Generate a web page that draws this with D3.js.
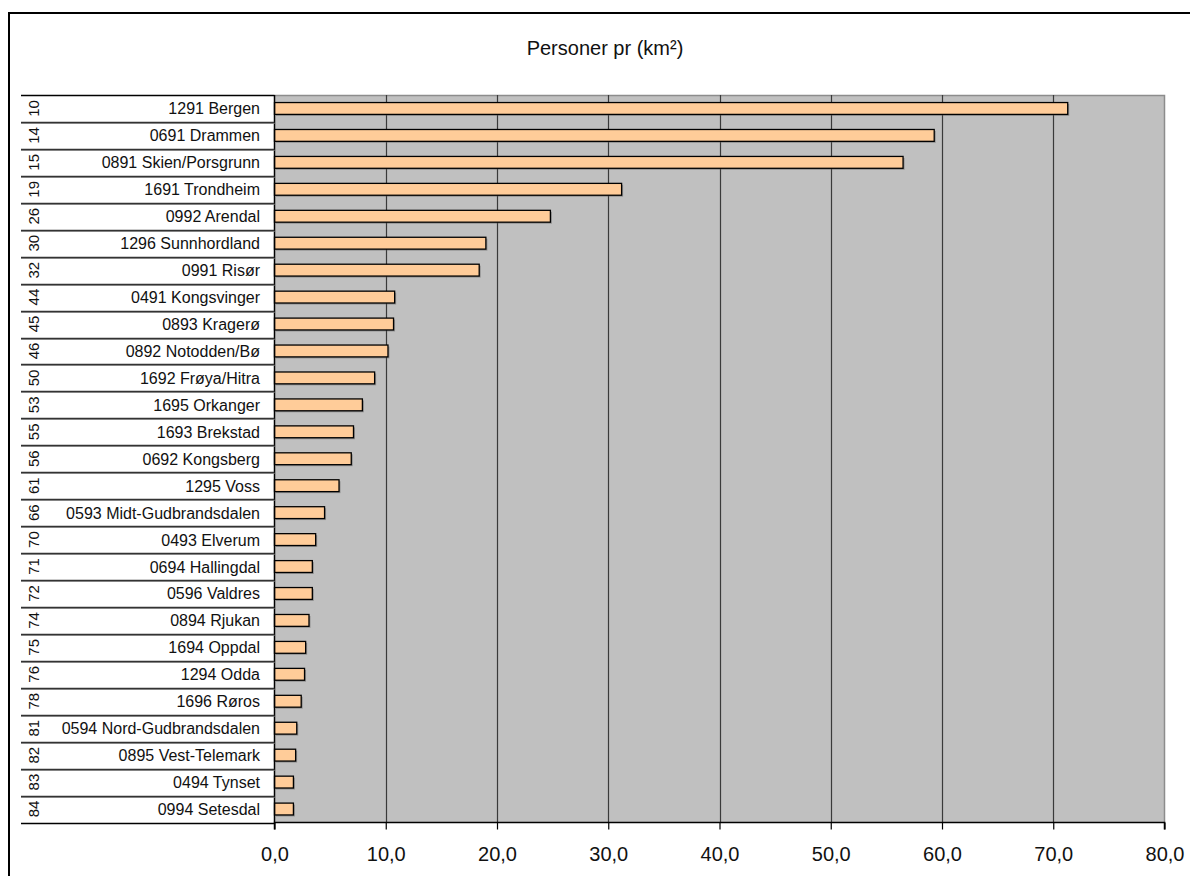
<!DOCTYPE html>
<html>
<head>
<meta charset="utf-8">
<script src="https://cdn.jsdelivr.net/npm/d3@7"></script>
<style>
  html, body { margin: 0; padding: 0; background: #fff; overflow: hidden; }
  svg { display: block; font-family: "Liberation Sans", Arial, sans-serif; }
</style>
</head>
<body>
<svg id="chart" width="1190" height="876"></svg>
<script>
const title = "Personer pr (km²)";
const ranks = ["10","14","15","19","26","30","32","44","45","46","50","53","55","56","61","66","70","71","72","74","75","76","78","81","82","83","84"];
const regions = ["1291 Bergen","0691 Drammen","0891 Skien/Porsgrunn","1691 Trondheim","0992 Arendal","1296 Sunnhordland","0991 Risør","0491 Kongsvinger","0893 Kragerø","0892 Notodden/Bø","1692 Frøya/Hitra","1695 Orkanger","1693 Brekstad","0692 Kongsberg","1295 Voss","0593 Midt-Gudbrandsdalen","0493 Elverum","0694 Hallingdal","0596 Valdres","0894 Rjukan","1694 Oppdal","1294 Odda","1696 Røros","0594 Nord-Gudbrandsdalen","0895 Vest-Telemark","0494 Tynset","0994 Setesdal"];
const density = [71.3,59.3,56.5,31.2,24.8,19.0,18.4,10.8,10.7,10.2,9.0,7.9,7.1,6.9,5.8,4.5,3.7,3.4,3.4,3.1,2.8,2.7,2.4,2.0,1.9,1.7,1.7];
const xTicks = [0,10,20,30,40,50,60,70,80];

const svg = d3.select("#chart");
const plotL = 274.5, plotR = 1164.5, plotT = 95, plotB = 822.5;
const tableL = 21;

// outer frame
svg.append("rect").attr("x", 9).attr("y", 13).attr("width", 1200).attr("height", 900)
  .attr("fill", "none").attr("stroke", "#000").attr("stroke-width", 2);

// title
svg.append("text").attr("x", 605).attr("y", 55).attr("text-anchor", "middle")
  .attr("font-size", 20).attr("fill", "#111").text(title);

const x = d3.scaleLinear().domain([0, 80]).range([plotL, plotR]);
const y = d3.scaleBand().domain(regions).range([plotT, plotB]).paddingInner(0).paddingOuter(0);
const barPad = 0.28;

// plot background
svg.append("rect").attr("x", plotL).attr("y", plotT).attr("width", plotR - plotL).attr("height", plotB - plotT)
  .attr("fill", "#c0c0c0");
// plot border top/right gray
svg.append("path").attr("d", `M${plotL},${plotT + 0.5}H${plotR}V${plotB}`)
  .attr("fill", "none").attr("stroke", "#8c8c8c").attr("stroke-width", 1.5);

// gridlines
svg.append("g").selectAll("line").data(xTicks.filter(d => d > 0 && d < 80)).join("line")
  .attr("x1", d => Math.round(x(d)) + 0.5).attr("x2", d => Math.round(x(d)) + 0.5)
  .attr("y1", plotT).attr("y2", plotB)
  .attr("stroke", "#3a3a3a").attr("stroke-width", 1.2);

// bars: shadow then bar
const bh = y.bandwidth() * (1 - 2 * barPad);
svg.append("g").selectAll("rect").data(regions).join("rect")
  .attr("x", x(0) + 1.5).attr("y", (d) => y(d) + y.bandwidth() * barPad + 1.5)
  .attr("width", (d, i) => x(density[i]) - x(0)).attr("height", bh)
  .attr("fill", "#555").attr("opacity", 0.45);
svg.append("g").selectAll("rect").data(regions).join("rect")
  .attr("x", x(0)).attr("y", (d) => y(d) + y.bandwidth() * barPad)
  .attr("width", (d, i) => x(density[i]) - x(0)).attr("height", bh)
  .attr("fill", "#ffcc99").attr("stroke", "#000").attr("stroke-width", 1.3);

// y axis line (left edge)
svg.append("line").attr("x1", plotL).attr("x2", plotL).attr("y1", plotT).attr("y2", plotB)
  .attr("stroke", "#000").attr("stroke-width", 1.5);

// label table row separators
const seps = regions.map(d => y(d)).concat([plotB]);
svg.append("g").selectAll("line").data(seps.slice(1, -1)).join("line")
  .attr("x1", tableL).attr("x2", plotL).attr("y1", d => Math.round(d) + 1.5).attr("y2", d => Math.round(d) + 1.5)
  .attr("stroke", "#a0a0a0").attr("stroke-width", 1);
svg.append("g").selectAll("line").data(seps).join("line")
  .attr("x1", tableL).attr("x2", plotL).attr("y1", d => Math.round(d) + 0.5).attr("y2", d => Math.round(d) + 0.5)
  .attr("stroke", (d, i) => (i === 0 || i === seps.length - 1) ? "#000" : "#333").attr("stroke-width", 1.3);

// category labels
svg.append("g").selectAll("text").data(regions).join("text")
  .attr("x", 260).attr("y", d => y(d) + y.bandwidth() / 2 + 6)
  .attr("text-anchor", "end").attr("font-size", 16).attr("fill", "#111").text(d => d);

// rank numbers (rotated)
svg.append("g").selectAll("text").data(regions).join("text")
  .attr("transform", d => `translate(39,${y(d) + y.bandwidth() / 2}) rotate(-90)`)
  .attr("text-anchor", "middle").attr("font-size", 15).attr("fill", "#111")
  .text((d, i) => ranks[i]);

// x axis
const fmt = d => d3.format(".1f")(d).replace(".", ",");
const xAxis = d3.axisBottom(x).tickValues(xTicks).tickSize(7).tickPadding(17).tickFormat(fmt);
const gx = svg.append("g").attr("transform", `translate(0,${plotB})`).call(xAxis);
gx.select(".domain").attr("stroke", "#000").attr("stroke-width", 1.5).attr("d", `M${plotL},7V0H${plotR}V7`);
gx.selectAll(".tick line").attr("stroke", "#000").attr("stroke-width", 1.2);
gx.selectAll(".tick text").attr("font-size", 20).attr("fill", "#111")
  .attr("font-family", "'Liberation Sans', Arial, sans-serif");
</script>
</body>
</html>
